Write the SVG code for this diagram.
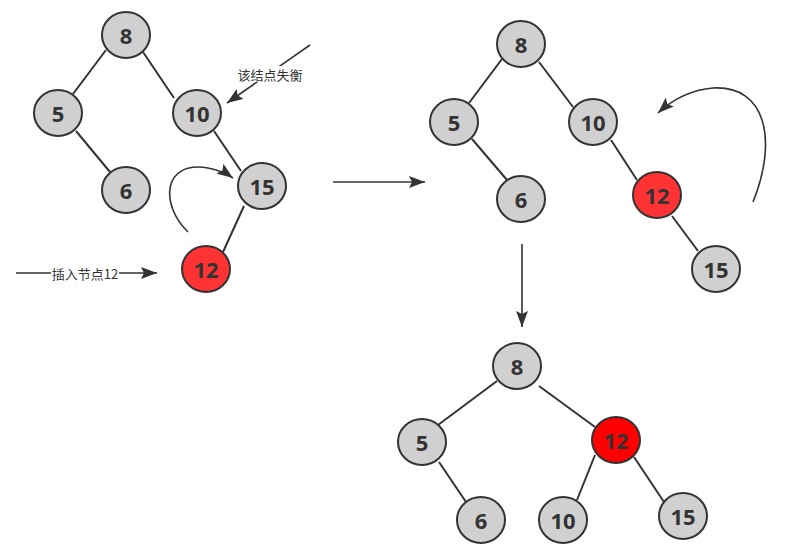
<svg xmlns="http://www.w3.org/2000/svg" width="794" height="556" viewBox="0 0 794 556">
<style>
.n ellipse{fill:#d0d0d0;stroke:#333;stroke-width:2}
.n.r ellipse{fill:#ff3333}
.n.rr ellipse{fill:#ff0000}
.n text{font-family:"Noto Sans","DejaVu Sans",sans-serif;font-weight:bold;font-size:22px;fill:#333;text-anchor:middle;dominant-baseline:central}
.e line{stroke:#333;stroke-width:2}
.a{stroke:#333;stroke-width:1.6;fill:none}
.lbl{font-family:"Noto Sans CJK SC","Noto Sans",sans-serif;font-size:13px;fill:#333;text-anchor:middle;dominant-baseline:central}
</style>
<defs>
<marker id="ahb" viewBox="0 0 16 12" refX="16" refY="6" markerWidth="16" markerHeight="12" markerUnits="userSpaceOnUse" orient="auto">
<path d="M0,0 L16,6 L0,12 L3,6 Z" fill="#333"/>
</marker>
</defs>
<g id="connectors">
<g class="e">
<line x1="106" y1="50" x2="73" y2="94"/>
<line x1="143" y1="52" x2="174" y2="98"/>
<line x1="76" y1="131" x2="110" y2="172"/>
<line x1="214" y1="131" x2="241" y2="171"/>
<line x1="244" y1="206" x2="223" y2="252"/>
<line x1="502" y1="59" x2="469" y2="103"/>
<line x1="539" y1="62" x2="573" y2="107"/>
<line x1="472" y1="139" x2="507" y2="180"/>
<line x1="611" y1="140" x2="637" y2="180"/>
<line x1="672" y1="216" x2="698" y2="251"/>
<line x1="497" y1="381" x2="438" y2="425"/>
<line x1="539" y1="386" x2="595" y2="427"/>
<line x1="439" y1="462" x2="466" y2="502"/>
<line x1="595" y1="455" x2="577" y2="500"/>
<line x1="634" y1="457" x2="664" y2="502"/>
</g>
<path class="a" d="M188,232 C160,205 162,160 208,168 C218,170 226,173 233,178" marker-end="url(#ahb)"/>
<path class="a" d="M753,202 C778,140 766,85 713,88 C690,90 672,100 658,113" marker-end="url(#ahb)"/>
<line class="a" x1="310" y1="45" x2="227" y2="103" marker-end="url(#ahb)"/>
<line class="a" x1="16" y1="273" x2="157" y2="273" marker-end="url(#ahb)"/>
<line class="a" x1="333" y1="182" x2="425" y2="182" marker-end="url(#ahb)"/>
<line class="a" x1="522" y1="244" x2="522" y2="327" marker-end="url(#ahb)"/>
<rect x="237" y="66" width="66" height="16" fill="#fff"/>
<text class="lbl" x="270" y="74">该结点失衡</text>
<rect x="51" y="265" width="68" height="16" fill="#fff"/>
<text class="lbl" x="85" y="273">插入节点12</text>
</g>
<g id="n1-8" class="n"><ellipse cx="126" cy="35" rx="24" ry="23"/><text x="126" y="35">8</text></g>
<g id="n1-5" class="n"><ellipse cx="58" cy="113" rx="24" ry="23"/><text x="58" y="113">5</text></g>
<g id="n1-10" class="n"><ellipse cx="197" cy="113" rx="24" ry="23"/><text x="197" y="113">10</text></g>
<g id="n1-6" class="n"><ellipse cx="126" cy="190" rx="24" ry="23"/><text x="126" y="190">6</text></g>
<g id="n1-15" class="n"><ellipse cx="262" cy="186" rx="24" ry="23"/><text x="262" y="186">15</text></g>
<g id="n1-12" class="n r"><ellipse cx="206" cy="269" rx="24" ry="23"/><text x="206" y="269">12</text></g>
<g id="n2-8" class="n"><ellipse cx="521" cy="44" rx="24" ry="23"/><text x="521" y="44">8</text></g>
<g id="n2-5" class="n"><ellipse cx="454" cy="122" rx="24" ry="23"/><text x="454" y="122">5</text></g>
<g id="n2-10" class="n"><ellipse cx="593" cy="122" rx="24" ry="23"/><text x="593" y="122">10</text></g>
<g id="n2-6" class="n"><ellipse cx="521" cy="199" rx="24" ry="23"/><text x="521" y="199">6</text></g>
<g id="n2-12" class="n r"><ellipse cx="657" cy="195" rx="24" ry="23"/><text x="657" y="195">12</text></g>
<g id="n2-15" class="n"><ellipse cx="716" cy="269" rx="24" ry="23"/><text x="716" y="269">15</text></g>
<g id="n3-8" class="n"><ellipse cx="517" cy="366" rx="24" ry="23"/><text x="517" y="366">8</text></g>
<g id="n3-5" class="n"><ellipse cx="422" cy="442" rx="24" ry="23"/><text x="422" y="442">5</text></g>
<g id="n3-12" class="n rr"><ellipse cx="616" cy="440" rx="24" ry="23"/><text x="616" y="440">12</text></g>
<g id="n3-6" class="n"><ellipse cx="481" cy="520" rx="24" ry="23"/><text x="481" y="520">6</text></g>
<g id="n3-10" class="n"><ellipse cx="563" cy="520" rx="24" ry="23"/><text x="563" y="520">10</text></g>
<g id="n3-15" class="n"><ellipse cx="683" cy="516" rx="24" ry="23"/><text x="683" y="516">15</text></g>
</svg>
